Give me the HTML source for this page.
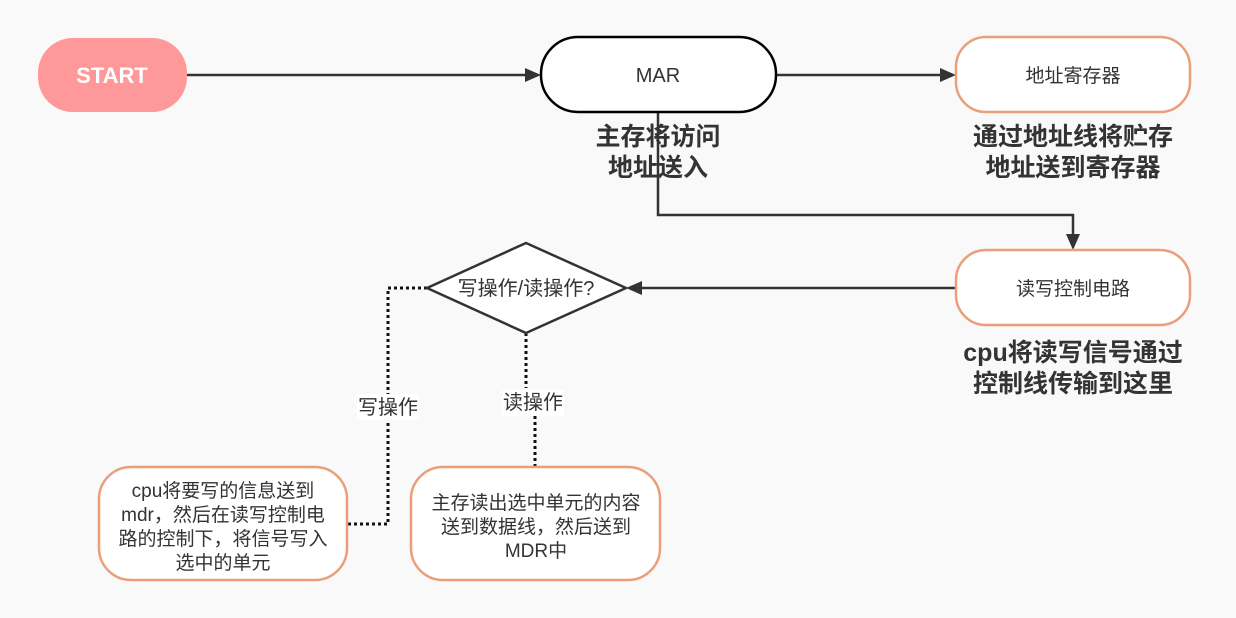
<!DOCTYPE html>
<html><head><meta charset="utf-8"><style>
body{margin:0;background:#f9f9f9;}
svg{display:block;font-family:"Liberation Sans","Noto Sans CJK SC",sans-serif;}
</style></head><body>
<svg width="1236" height="618" viewBox="0 0 1236 618" xmlns="http://www.w3.org/2000/svg">
<rect width="1236" height="618" fill="#f9f9f9"/>
<!-- connectors -->
<line x1="187" y1="75" x2="527" y2="75" stroke="#333" stroke-width="2.5"/>
<path d="M525,68 L541,75 L525,82 z" fill="#333"/>
<line x1="776" y1="75" x2="942" y2="75" stroke="#333" stroke-width="2.5"/>
<path d="M940,68 L956,75 L940,82 z" fill="#333"/>
<polyline points="658,112 658,215 1073,215 1073,236" fill="none" stroke="#333" stroke-width="2.5"/>
<path d="M1066,234 L1073,250 L1080,234 z" fill="#333"/>
<line x1="956" y1="288" x2="640" y2="288" stroke="#333" stroke-width="2.5"/>
<path d="M642,281 L626,288 L642,295 z" fill="#333"/>
<polyline points="427,288 388,288 388,524 347,524" fill="none" stroke="#111" stroke-width="3" stroke-dasharray="3,3"/>
<line x1="526" y1="333" x2="526" y2="388" stroke="#111" stroke-width="3" stroke-dasharray="3,3"/>
<line x1="535" y1="416" x2="535" y2="467" stroke="#111" stroke-width="3" stroke-dasharray="3,3"/>
<rect x="357" y="394" width="62" height="26" fill="#fff"/>
<text x="388" y="414" font-size="20" fill="#333" text-anchor="middle">写操作</text>
<rect x="502" y="390" width="62" height="26" fill="#fff"/>
<text x="533" y="409" font-size="20" fill="#333" text-anchor="middle">读操作</text>
<!-- nodes -->
<rect x="38" y="38" width="149" height="74" rx="35" fill="#ff9999"/>
<text x="112" y="83" font-size="22" font-weight="bold" fill="#fff" text-anchor="middle">START</text>
<rect x="541" y="37" width="235" height="75" rx="37" fill="#fff" stroke="#000" stroke-width="2.5"/>
<text x="658" y="82" font-size="20" fill="#333" text-anchor="middle">MAR</text>
<rect x="956" y="37" width="234" height="75" rx="30" fill="#fff" stroke="#e8a07a" stroke-width="2.5"/>
<text x="1073" y="82" font-size="19" fill="#333" text-anchor="middle">地址寄存器</text>
<rect x="956" y="250" width="234" height="75" rx="30" fill="#fff" stroke="#e8a07a" stroke-width="2.5"/>
<text x="1073" y="295" font-size="19" fill="#333" text-anchor="middle">读写控制电路</text>
<polygon points="427,288 526,243 626,288 526,333" fill="#fff" stroke="#333" stroke-width="2.5"/>
<text x="526" y="295" font-size="20" fill="#333" text-anchor="middle">写操作/读操作?</text>
<rect x="99" y="467" width="248" height="113" rx="32" fill="#fff" stroke="#e8a07a" stroke-width="2.5"/>
<text font-size="19" fill="#333" text-anchor="middle"><tspan x="223" y="497">cpu将要写的信息送到</tspan><tspan x="223" y="521">mdr，然后在读写控制电</tspan><tspan x="223" y="545">路的控制下，将信号写入</tspan><tspan x="223" y="569">选中的单元</tspan></text>
<rect x="411" y="467" width="249" height="113" rx="32" fill="#fff" stroke="#e8a07a" stroke-width="2.5"/>
<text font-size="19" fill="#333" text-anchor="middle"><tspan x="536" y="509">主存读出选中单元的内容</tspan><tspan x="536" y="533">送到数据线，然后送到</tspan><tspan x="536" y="557">MDR中</tspan></text>
<!-- bold labels -->
<g font-size="25" font-weight="bold" fill="#333" text-anchor="middle">
<text x="658" y="145">主存将访问</text><text x="658" y="176">地址送入</text>
<text x="1073" y="145">通过地址线将贮存</text><text x="1073" y="176">地址送到寄存器</text>
<text x="1073" y="361">cpu将读写信号通过</text><text x="1073" y="392">控制线传输到这里</text>
</g>
</svg>
</body></html>
